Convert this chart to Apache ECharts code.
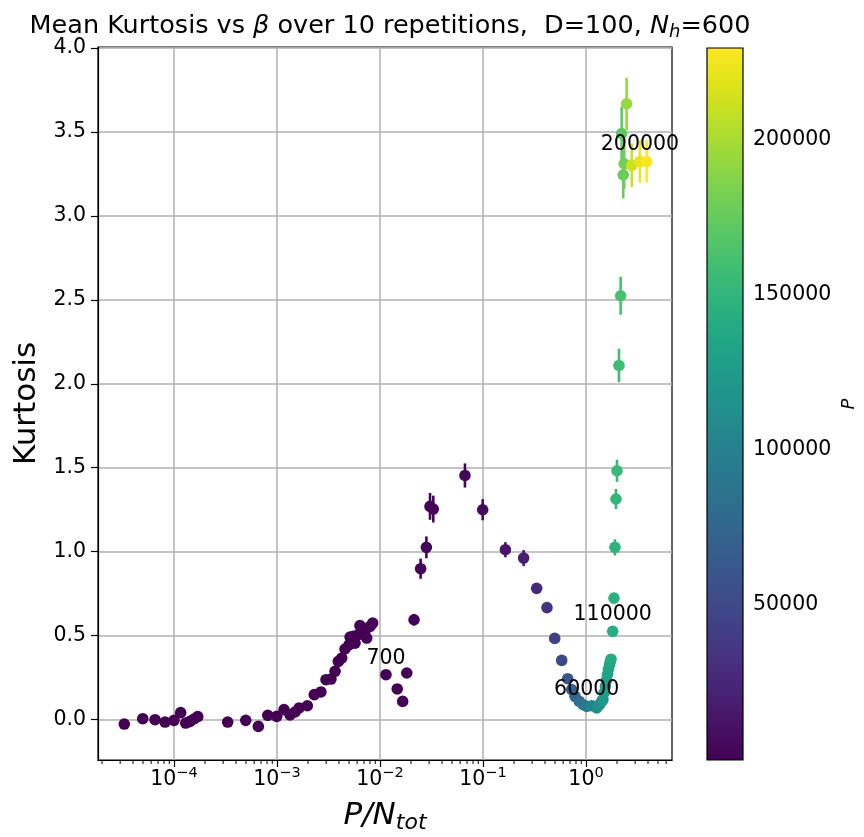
<!DOCTYPE html>
<html><head><meta charset="utf-8">
<script src="https://cdn.jsdelivr.net/npm/echarts@6/dist/echarts.min.js"></script>
<style>html,body{margin:0;padding:0;background:#fff}#c{width:864px;height:837px}</style>
</head><body><div id="c"></div>
<script>
// P / N_tot (x positions)
const ratio = [3.29e-5,4.97e-5,6.54e-5,8.18e-5,1.00e-4,1.16e-4,1.30e-4,1.43e-4,1.56e-4,1.70e-4,
  3.32e-4,4.97e-4,6.59e-4,8.13e-4,9.94e-4,1.17e-3,1.34e-3,1.50e-3,1.64e-3,1.97e-3,
  2.30e-3,2.67e-3,2.99e-3,3.34e-3,3.66e-3,3.94e-3,4.25e-3,4.57e-3,5.00e-3,5.12e-3,
  5.51e-3,5.72e-3,6.15e-3,6.39e-3,7.14e-3,7.43e-3,8.00e-3,8.49e-3,
  1.143e-2,1.47e-2,1.66e-2,1.82e-2,2.14e-2,2.48e-2,2.82e-2,3.06e-2,3.29e-2,6.68e-2,9.93e-2,
  0.165,0.248,0.332,0.418,0.497,0.581,0.664,0.726,0.782,0.861,0.942,1.016,1.136,1.27,1.352,
  1.42,1.462,1.496,1.546,1.58,1.62,1.65,1.69,1.72,1.75,1.816,1.87,1.91,1.955,2.00,2.09,2.17,
  2.22,2.30,2.35,2.48,2.78,3.34,3.88];
// mean kurtosis
const kurtosis = [-0.026,0.006,0.000,-0.014,-0.004,0.042,-0.020,-0.010,0.004,0.018,
  -0.014,-0.004,-0.040,0.026,0.020,0.060,0.028,0.046,0.070,0.083,
  0.149,0.165,0.238,0.242,0.288,0.347,0.367,0.421,0.446,0.492,
  0.496,0.456,0.506,0.560,0.526,0.486,0.555,0.575,
  0.268,0.183,0.109,0.278,0.595,0.899,1.026,1.270,1.254,1.454,1.250,
  1.012,0.962,0.782,0.667,0.484,0.353,0.244,0.179,0.139,0.109,0.089,0.079,0.083,0.070,0.090,
  0.109,0.120,0.160,0.200,0.235,0.270,0.300,0.325,0.345,0.360,0.526,0.724,1.026,1.314,1.482,2.109,2.524,
  3.490,3.244,3.310,3.667,3.300,3.323,3.323];
// error (half-length of error bar)
const kurtErr = [0.012,0.012,0.012,0.012,0.012,0.015,0.012,0.012,0.012,0.012,
  0.012,0.012,0.012,0.012,0.012,0.012,0.012,0.012,0.012,0.012,
  0.012,0.012,0.012,0.012,0.012,0.012,0.012,0.012,0.012,0.012,
  0.012,0.012,0.012,0.012,0.012,0.012,0.012,0.012,
  0.012,0.012,0.012,0.012,0.035,0.060,0.065,0.080,0.080,0.072,0.063,
  0.045,0.048,0.025,0.015,0.010,0.010,0.010,0.010,0.010,0.010,0.010,0.010,0.010,0.010,0.010,
  0.010,0.010,0.010,0.010,0.010,0.010,0.010,0.010,0.010,0.010,0.012,0.020,0.048,0.060,0.066,0.100,0.113,
  0.160,0.140,0.150,0.155,0.130,0.125,0.125];
// colour value P
const pColor = [2,3,4,5,6,7,8,9,10,11,
  20,30,40,50,60,70,80,90,100,120,
  140,160,180,200,220,240,260,280,300,310,
  330,350,370,390,430,450,490,510,
  700,900,1000,1100,1300,1500,1700,1850,2000,4000,6000,
  13000,19000,27000,34000,43000,50000,61000,69000,75000,82000,89000,96000,103000,110000,114000,
  118000,122000,126000,128000,130000,132000,134000,136000,138000,140000,143000,145000,148000,151000,154000,158000,162000,
  172000,176000,180000,193000,212000,222000,229500];
const annoIndex = [38, 60, 74, 86];
const annoText = ['700', '60000', '110000', '200000'];
const xTickValues = [1e-4, 1e-3, 1e-2, 1e-1, 1];
const xMinorTicks = [2e-5,3e-5,4e-5,5e-5,6e-5,7e-5,8e-5,9e-5,
  2e-4,3e-4,4e-4,5e-4,6e-4,7e-4,8e-4,9e-4,
  2e-3,3e-3,4e-3,5e-3,6e-3,7e-3,8e-3,9e-3,
  2e-2,3e-2,4e-2,5e-2,6e-2,7e-2,8e-2,9e-2,
  0.2,0.3,0.4,0.5,0.6,0.7,0.8,0.9,
  2,3,4,5,6];
const yTickValues = [0, 0.5, 1.0, 1.5, 2.0, 2.5, 3.0, 3.5, 4.0];
const cbTickValues = [50000, 100000, 150000, 200000];
const viridis = ['#440154','#471365','#482475','#463480','#414487','#3b528b','#355f8d','#2f6c8e','#2a788e','#25848e',
  '#21918c','#1e9c89','#22a884','#2fb47c','#44bf70','#5ec962','#7ad151','#9bd93c','#bddf26','#dfe318','#fde725'];

const X_MIN = 1.828e-5, X_MAX = 6.84, Y_MIN = -0.24, Y_MAX = 4.005, CB_MIN = 0, CB_MAX = 229500;
const FONT = 'DejaVu Sans';
const TICK_FS = 20.5;

const chart = echarts.init(document.getElementById('c'), null, {renderer: 'canvas'});

const pointData = ratio.map((r, i) => [r, kurtosis[i], kurtErr[i], pColor[i]]);

const option = {
  backgroundColor: '#fff',
  animation: false,
  title: {
    text: '{n|Mean Kurtosis vs }{it|β}{n| over 10 repetitions,  D=100, }{it|N}{sub|h}{n|=600}',
    left: 385, top: 6, textAlign: 'center',
    textStyle: {
      fontFamily: FONT, fontWeight: 'normal', color: '#000', fontSize: 25.5,
      rich: {
        n: {fontFamily: FONT, fontSize: 25.5, color: '#000'},
        it: {fontFamily: FONT, fontSize: 25.5, fontStyle: 'italic', color: '#000'},
        sub: {fontFamily: FONT, fontSize: 18, fontStyle: 'italic', color: '#000', padding: [12, 0, 0, 0]}
      }
    }
  },
  grid: [
    {left: 98, right: 192, top: 47, bottom: 77, show: true, borderColor: '#000', borderWidth: 1.2,
      backgroundColor: 'transparent', outerBoundsMode: 'none', containLabel: false},
    {left: 707, width: 36, top: 48, bottom: 77, show: false, outerBoundsMode: 'none', containLabel: false}
  ],
  visualMap: {
    type: 'continuous', show: false, min: CB_MIN, max: CB_MAX, dimension: 3, seriesIndex: 0,
    inRange: {color: viridis}
  },
  xAxis: [
    {
      type: 'log', logBase: 10, min: X_MIN, max: X_MAX, gridIndex: 0,
      axisLine: {show: true, onZero: false, lineStyle: {color: '#000', width: 1.2}},
      axisTick: {show: true, customValues: xTickValues, length: 7, lineStyle: {color: '#000', width: 1.2}},
      axisLabel: {
        show: true, customValues: xTickValues, margin: 6, color: '#000',
        formatter: (v) => {
          const e = Math.round(Math.log10(v));
          const s = e < 0 ? '\u2212' + (-e) : String(e);
          return '{b|10}{s|' + s + '}';
        },
        rich: {
          b: {fontFamily: FONT, fontSize: TICK_FS, color: '#000'},
          s: {fontFamily: FONT, fontSize: 14.5, color: '#000', padding: [0, 0, 12, 0]}
        }
      },
      splitLine: {show: true, lineStyle: {color: '#b0b0b0', width: 1.5}},
      name: '{a|P/N}{b|tot}', nameLocation: 'middle', nameGap: 38,
      nameTextStyle: {
        rich: {
          a: {fontFamily: FONT, fontSize: 31, fontStyle: 'italic', color: '#000'},
          b: {fontFamily: FONT, fontSize: 22, fontStyle: 'italic', color: '#000', padding: [14, 0, 0, 0]}
        }
      }
    },
    {type: 'value', gridIndex: 1, min: 0, max: 1, show: false}
  ],
  yAxis: [
    {
      type: 'value', min: Y_MIN, max: Y_MAX, minInterval: 0.5, maxInterval: 0.5, gridIndex: 0,
      axisLine: {show: true, onZero: false, lineStyle: {color: '#000', width: 1.2}},
      axisTick: {show: true, customValues: yTickValues, length: 7, lineStyle: {color: '#000', width: 1.2}},
      axisLabel: {show: true, customValues: yTickValues, margin: 12, color: '#000', fontFamily: FONT, fontSize: TICK_FS,
        formatter: (v) => v.toFixed(1)},
      splitLine: {show: true, lineStyle: {color: '#b0b0b0', width: 1.5}},
      name: 'Kurtosis', nameLocation: 'middle', nameGap: 45, nameRotate: 90,
      nameTextStyle: {fontFamily: FONT, fontSize: 31, color: '#000'}
    },
    {
      type: 'value', gridIndex: 1, min: CB_MIN, max: CB_MAX, position: 'right',
      axisLine: {show: false},
      axisTick: {show: true, customValues: cbTickValues, length: 7, lineStyle: {color: '#000', width: 1.2}},
      axisLabel: {show: true, customValues: cbTickValues, margin: 10, color: '#000', fontFamily: FONT, fontSize: TICK_FS,
        formatter: (v) => String(v)},
      splitLine: {show: false},
      name: 'P', nameLocation: 'middle', nameGap: 97, nameRotate: 90,
      nameTextStyle: {fontFamily: FONT, fontSize: 18, fontStyle: 'italic', color: '#000'}
    }
  ],
  series: [
    {
      type: 'custom', name: 'kurtosis', xAxisIndex: 0, yAxisIndex: 0, z: 3,
      data: pointData,
      encode: {x: 0, y: 1},
      renderItem: (params, api) => {
        const x = api.value(0), y = api.value(1), e = api.value(2);
        const c = api.visual('color');
        const p = api.coord([x, y]);
        const t = api.coord([x, y + e]);
        const b = api.coord([x, y - e]);
        return {type: 'group', children: [
          {type: 'line', shape: {x1: p[0], y1: t[1], x2: p[0], y2: b[1]}, style: {stroke: c, lineWidth: 2.6}},
          {type: 'circle', shape: {cx: p[0], cy: p[1], r: 5.8}, style: {fill: c}}
        ]};
      }
    },
    {
      type: 'scatter', name: 'labels', xAxisIndex: 0, yAxisIndex: 0, z: 5,
      symbolSize: 0, itemStyle: {color: '#000', opacity: 1},
      data: annoIndex.map((i) => [ratio[i], kurtosis[i]]),
      label: {
        show: true, position: 'top', distance: 6, color: '#000', opacity: 1, fontFamily: FONT, fontSize: TICK_FS,
        textBorderWidth: 0, formatter: (p) => annoText[p.dataIndex]
      },
      silent: true
    },
    {
      type: 'custom', name: 'minorTicks', xAxisIndex: 0, yAxisIndex: 0, z: 4, silent: true,
      data: xMinorTicks.map((v) => [v, Y_MIN]),
      encode: {x: 0, y: 1},
      renderItem: (params, api) => {
        const p = api.coord([api.value(0), api.value(1)]);
        return {type: 'line', shape: {x1: p[0], y1: p[1], x2: p[0], y2: p[1] + 4}, style: {stroke: '#000', lineWidth: 1}};
      }
    },
    {
      type: 'custom', name: 'colorbar', xAxisIndex: 1, yAxisIndex: 1, silent: true,
      data: [[0, CB_MIN, 1, CB_MAX]],
      encode: {x: [0, 2], y: [1, 3]},
      renderItem: (params, api) => {
        const p0 = api.coord([api.value(0), api.value(1)]);
        const p1 = api.coord([api.value(2), api.value(3)]);
        const stops = viridis.map((c, i) => ({offset: i / (viridis.length - 1), color: c}));
        return {type: 'rect',
          shape: {x: p0[0], y: p1[1], width: p1[0] - p0[0], height: p0[1] - p1[1]},
          style: {fill: new echarts.graphic.LinearGradient(0, 1, 0, 0, stops), stroke: '#000', lineWidth: 1.2}};
      }
    }
  ]
};
chart.setOption(option);
</script>
</body></html>
